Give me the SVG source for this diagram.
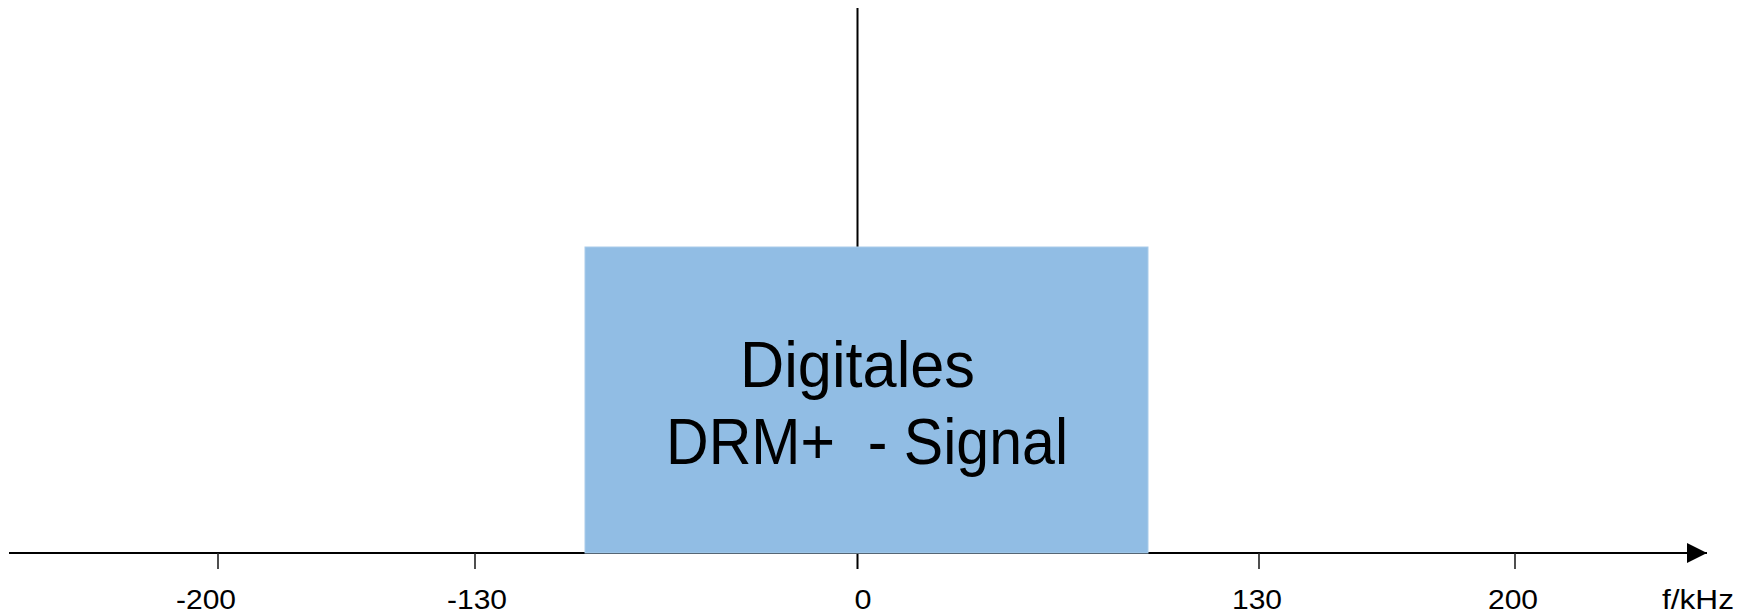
<svg xmlns="http://www.w3.org/2000/svg" width="1753" height="616" viewBox="0 0 1753 616">
<style>
.ax{stroke:#000;stroke-width:2;fill:none}
.tk{stroke:#222;stroke-width:1.6}
.lbl{font-family:"Liberation Sans",Arial,sans-serif;font-size:28px;fill:#000;text-anchor:middle}
.big{font-family:"Liberation Sans",Arial,sans-serif;font-size:65px;fill:#000}
</style>
<defs>
<marker id="arr" markerWidth="20" markerHeight="20" refX="20" refY="10" orient="auto" markerUnits="userSpaceOnUse">
<path d="M0,0 L20,10 L0,20 Z" fill="#000"/>
</marker>
</defs>
<g id="connectors">
<line class="ax" x1="9" y1="553" x2="1707" y2="553" marker-end="url(#arr)"/>
<line class="ax" x1="857.5" y1="8" x2="857.5" y2="569"/>
<line class="tk" x1="218" y1="553" x2="218" y2="569"/>
<line class="tk" x1="475" y1="553" x2="475" y2="569"/>
<line class="tk" x1="1259" y1="553" x2="1259" y2="569"/>
<line class="tk" x1="1515" y1="553" x2="1515" y2="569"/>
</g>
<g id="signal">
<rect x="585" y="247" width="563" height="306" fill="#91BDE4" stroke="#A9CCEA" stroke-width="1"/>
<text class="big" x="740" y="387" textLength="235" lengthAdjust="spacingAndGlyphs">Digitales</text>
<text class="big" x="666" y="464" textLength="402" lengthAdjust="spacingAndGlyphs" xml:space="preserve">DRM+  - Signal</text>
</g>
<g id="labels">
<text class="lbl" x="206" y="609" textLength="60" lengthAdjust="spacingAndGlyphs">-200</text>
<text class="lbl" x="477" y="609" textLength="60" lengthAdjust="spacingAndGlyphs">-130</text>
<text class="lbl" x="863" y="609" textLength="17" lengthAdjust="spacingAndGlyphs">0</text>
<text class="lbl" x="1257" y="609" textLength="50" lengthAdjust="spacingAndGlyphs">130</text>
<text class="lbl" x="1513" y="609" textLength="50" lengthAdjust="spacingAndGlyphs">200</text>
<text class="lbl" x="1698" y="609" textLength="72" lengthAdjust="spacingAndGlyphs">f/kHz</text>
</g>
</svg>
